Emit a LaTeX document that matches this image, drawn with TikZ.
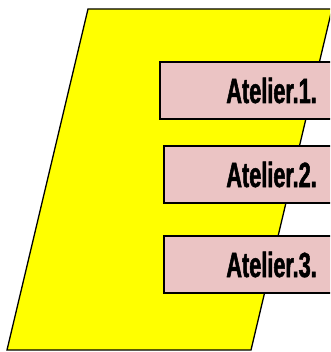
\documentclass[tikz,border=0pt]{standalone}
\usepackage{fontspec}
\newfontfamily\atelierfont[FakeStretch=0.62,FakeBold=1.5]{Liberation Sans}
\definecolor{atelierpink}{RGB}{235,196,196}
\definecolor{bigyellow}{RGB}{255,255,0}

\begin{document}
\begin{tikzpicture}[x=1pt,y=-1pt,
    workshop/.style={draw,line width=1.6pt,fill=atelierpink,inner sep=0pt,
      minimum width=190pt,minimum height=57pt,anchor=north west},
    caption/.style={anchor=base east,inner sep=0pt,
      font=\atelierfont\bfseries\fontsize{35}{35}\selectfont}
    ]

    \useasboundingbox (0,0) rectangle (330,352);
    \clip (0,0) rectangle (330,352);

    % the big slanted E
    \draw[line width=1.3pt,fill=bigyellow] (88,9) -- (332,9) -- (251,350) -- (7,350) -- cycle;

    \foreach \i/\x/\y in {1/159/61,2/163/145,3/163/235} {
      \node (box\i) [workshop] at (\x,\y) {};
      \node (lbl\i) [caption] at (317,\y+42) {Atelier.\i.};
    }

  \end{tikzpicture}
\end{document}
